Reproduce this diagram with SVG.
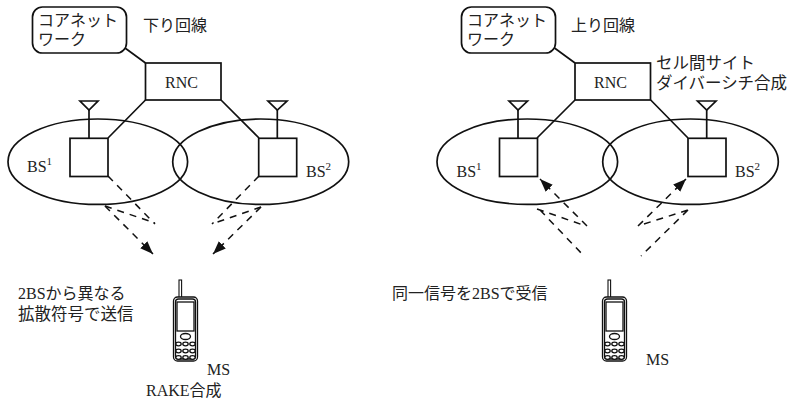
<svg xmlns="http://www.w3.org/2000/svg" width="792" height="400" viewBox="0 0 792 400">
<style>
.s{fill:none;stroke:#111;stroke-width:1.7}
.d{fill:none;stroke:#111;stroke-width:1.5;stroke-dasharray:7 6}
.k{fill:#fff;stroke:#111;stroke-width:1.3}
.j{font-family:"Noto Sans CJK JP","Noto Sans",sans-serif;font-size:16px;fill:#222}
.j2{font-size:16.5px}
.r{font-family:"Liberation Serif","Noto Sans CJK JP",serif;font-size:16px;fill:#222}
.u{font-size:11px}
</style>
<defs>
<marker id="a" markerUnits="userSpaceOnUse" markerWidth="14" markerHeight="12" refX="13" refY="5" orient="auto"><path d="M0 0L13 5L0 10Z" fill="#111"/></marker>
<g id="phone">
<rect x="179" y="280" width="2.600" height="18" fill="#fff" stroke="#111" stroke-width="1.100"/>
<rect x="173.500" y="297" width="24" height="64" rx="4" class="k"/>
<rect x="175.500" y="299" width="20" height="60" rx="3" class="k"/>
<rect x="177" y="302" width="17" height="29" class="k"/>
<ellipse cx="185.500" cy="336.500" rx="5" ry="3" class="k"/>
<g class="k">
<ellipse cx="178.500" cy="344" rx="2.700" ry="1.800"/><ellipse cx="185.500" cy="344" rx="2.700" ry="1.800"/><ellipse cx="192.500" cy="344" rx="2.700" ry="1.800"/>
<ellipse cx="178.500" cy="351" rx="2.700" ry="1.800"/><ellipse cx="185.500" cy="351" rx="2.700" ry="1.800"/><ellipse cx="192.500" cy="351" rx="2.700" ry="1.800"/>
<ellipse cx="178.500" cy="357.500" rx="2.700" ry="1.800"/><ellipse cx="185.500" cy="357.500" rx="2.700" ry="1.800"/><ellipse cx="192.500" cy="357.500" rx="2.700" ry="1.800"/>
</g>
</g>
</defs>
<g id="connectors">
<path class="s" d="M125 48L145.500 63M145.500 100L108 138M221 100L259 138M89 138V110M277.300 138V110"/>
<path class="s" d="M80 101H98L89 110ZM268 101H287L277.300 110Z"/>
<path class="s" d="M554.500 48L575 63M575 100L537 138M650.700 100L688 138M518 138V110M706.700 138V110"/>
<path class="s" d="M509 101H527.500L518 110ZM697.500 101H716L706.700 110Z"/>
<path class="d" d="M108 176L155 224M105 206L155 223"/>
<path class="d" d="M105 206L153 254" marker-end="url(#a)"/>
<path class="d" d="M259 176L212 224M261 207L212 224"/>
<path class="d" d="M261 207L213 254" marker-end="url(#a)"/>
<path class="d" d="M587 226L540 179" marker-end="url(#a)"/>
<path class="d" d="M537 209L583 225M540 210L584 256"/>
<path class="d" d="M638 226L686 179" marker-end="url(#a)"/>
<path class="d" d="M644 224L688 210M688 210L641 256"/>
</g>
<g id="cell-left-1"><ellipse class="s" cx="97.800" cy="161.700" rx="89.800" ry="42.700"/><text class="r" x="27" y="172">BS<tspan class="u" dy="-7">1</tspan></text></g>
<g id="cell-left-2"><ellipse class="s" cx="260.700" cy="161.700" rx="88" ry="42.700"/><text class="r" x="306" y="177">BS<tspan class="u" dy="-7">2</tspan></text></g>
<g id="cell-right-1"><ellipse class="s" cx="527.300" cy="161.700" rx="90.300" ry="42.700"/><text class="r" x="456.500" y="177">BS<tspan class="u" dy="-7">1</tspan></text></g>
<g id="cell-right-2"><ellipse class="s" cx="690.500" cy="161.700" rx="87.800" ry="42.700"/><text class="r" x="735" y="177">BS<tspan class="u" dy="-7">2</tspan></text></g>
<g id="bs-left-1"><rect class="s" x="70" y="138.300" width="38" height="38.200"/></g>
<g id="bs-left-2"><rect class="s" x="258.700" y="138.300" width="38" height="38.200"/></g>
<g id="bs-right-1"><rect class="s" x="499.500" y="138.300" width="38" height="38.200"/></g>
<g id="bs-right-2"><rect class="s" x="688" y="138.300" width="38" height="38.200"/></g>
<g id="core-left"><rect class="s" x="32.500" y="7" width="94" height="46" rx="10"/><text class="j" x="38" y="26" textLength="80">コアネット</text><text class="j" x="38" y="45">ワーク</text></g>
<g id="core-right"><rect class="s" x="461.500" y="7" width="94" height="46" rx="10"/><text class="j" x="467" y="26" textLength="80">コアネット</text><text class="j" x="467" y="45">ワーク</text></g>
<g id="rnc-left"><rect class="s" x="145.500" y="63" width="75.500" height="37"/><text class="r" x="165" y="88">RNC</text></g>
<g id="rnc-right"><rect class="s" x="575" y="63" width="75.500" height="37"/><text class="r" x="594" y="88">RNC</text></g>
<text class="j" x="143" y="31">下り回線</text>
<text class="j" x="571" y="31">上り回線</text>
<text class="j j2" x="656" y="69">セル間サイト</text>
<text class="j j2" x="656" y="89" textLength="131">ダイバーシチ合成</text>
<text class="j" x="18" y="299"><tspan class="r">2BS</tspan>から異なる</text>
<text class="j j2" x="18" y="320">拡散符号で送信</text>
<text class="j" x="392" y="299">同一信号を<tspan class="r">2BS</tspan>で受信</text>
<g id="ms-left"><use href="#phone"/><text class="r" x="207" y="375">MS</text></g>
<g id="ms-right"><use href="#phone" x="429"/><text class="r" x="646" y="365">MS</text></g>
<text class="j" x="146" y="396"><tspan class="r">RAKE</tspan>合成</text>
</svg>
